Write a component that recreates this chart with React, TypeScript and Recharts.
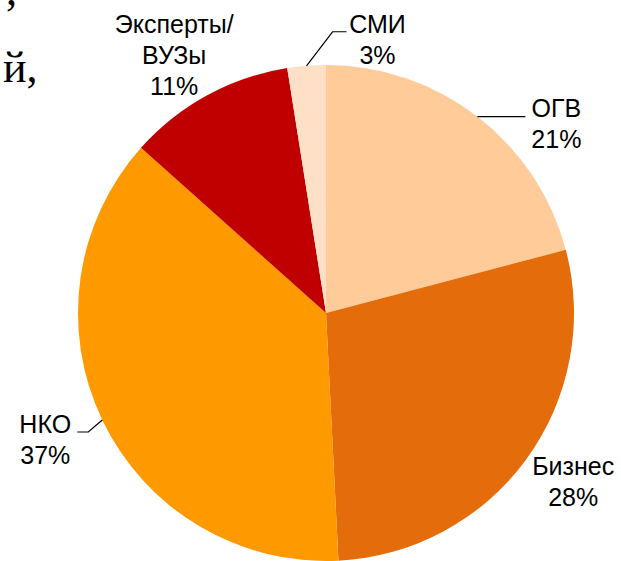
import React from 'react';
import { PieChart, Pie, Cell } from 'recharts';

// sectors clockwise from 12 o'clock
const names = ['ОГВ', 'Бизнес', 'НКО', 'Эксперты/\nВУЗы', 'СМИ'];
const shares = [20.9, 28.3, 37.4, 10.9, 2.5];
const percentLabels = ['21%', '28%', '37%', '11%', '3%'];
const colors = ['#FFCC99', '#E46C0A', '#FF9900', '#C00000', '#FDE0C6'];

const data = names.map((name, i) => ({ name, value: shares[i], pct: percentLabels[i] }));

const RADIAN = Math.PI / 180;
const LINE_H = 31;

// label placement relative to the point where the mid-angle meets the rim
const labelLayout = [
  { line: [[48, 0]], dx: 79, dy: 0 },
  { line: [], dx: 47, dy: 16 },
  { line: [[-14, 12], [-25, 12]], dx: -57, dy: 13 },
  { line: [], dx: -33, dy: -62 },
  { line: [[26, -34], [40, -34]], dx: 71, dy: -33 },
];

const renderLabel = (props: any) => {
  const { cx, cy, midAngle, outerRadius, index } = props;
  const ex = cx + outerRadius * Math.cos(-midAngle * RADIAN);
  const ey = cy + outerRadius * Math.sin(-midAngle * RADIAN);
  const lay = labelLayout[index];
  const lines = [...data[index].name.split('\n'), data[index].pct];
  const pts = [[ex, ey], ...lay.line.map(([x, y]) => [ex + x, ey + y])];
  return (
    <g key={'lbl' + index}>
      {lay.line.length > 0 && (
        <polyline
          points={pts.map((p) => p.join(',')).join(' ')}
          fill="none"
          stroke="#000"
          strokeWidth={1.2}
        />
      )}
      <text
        x={ex + lay.dx}
        y={ey + lay.dy}
        textAnchor="middle"
        fill="#000"
        fontFamily="'Liberation Sans', Arial, sans-serif"
        fontSize={25}
      >
        {lines.map((t, i) => (
          <tspan key={i} x={ex + lay.dx} dy={i === 0 ? 0 : LINE_H}>
            {t}
          </tspan>
        ))}
      </text>
    </g>
  );
};

export default function App() {
  return (
    <div style={{ position: 'absolute', left: 0, top: 0, width: 621, height: 561, background: '#fff', overflow: 'hidden' }}>
      <PieChart width={621} height={561} margin={{ top: 0, right: 0, bottom: 0, left: 0 }}>
        <Pie
          data={data}
          dataKey="value"
          nameKey="name"
          cx={326}
          cy={313}
          outerRadius={248}
          startAngle={90}
          endAngle={-270}
          stroke="none"
          labelLine={false}
          label={renderLabel}
          isAnimationActive={false}
        >
          {data.map((d, i) => (
            <Cell key={d.name} fill={colors[i]} />
          ))}
        </Pie>
      </PieChart>
      {/* fragments of the surrounding document text */}
      <svg width={621} height={561} style={{ position: 'absolute', left: 0, top: 0, pointerEvents: 'none' }}>
        <text x={6} y={5} fontFamily="'Liberation Serif', 'Times New Roman', serif" fontSize={44} fill="#000">,</text>
        <text x={3} y={82} fontFamily="'Liberation Serif', 'Times New Roman', serif" fontSize={44} fill="#000">й,</text>
      </svg>
    </div>
  );
}
